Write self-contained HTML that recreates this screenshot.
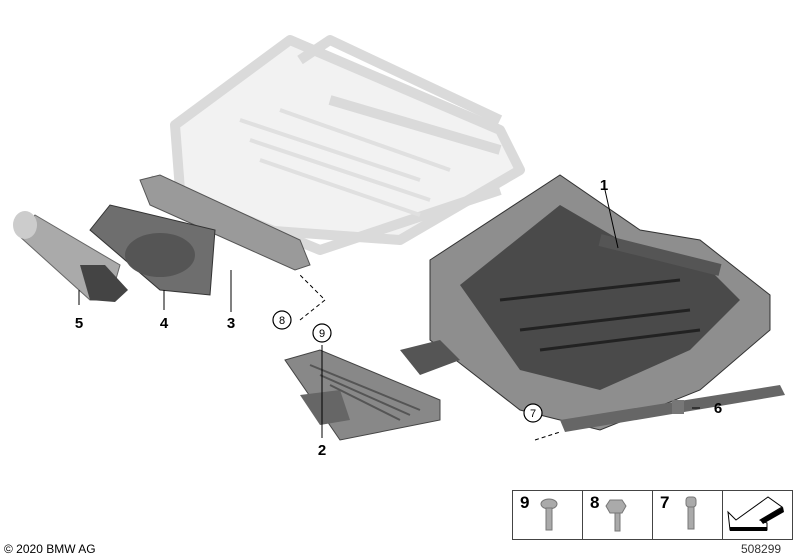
<!DOCTYPE html>
<html><head><style>
html,body{margin:0;padding:0;background:#fff;}
svg{display:block;font-family:"Liberation Sans",sans-serif;}
</style></head><body>
<svg width="800" height="560" viewBox="0 0 800 560" xmlns="http://www.w3.org/2000/svg">
<!-- ghost rear frame -->
<path d="M175 125 L290 40 L500 130 L520 170 L400 240 L260 230 L180 190 Z" fill="#f2f2f2"/>
<g fill="none" stroke="#dadada" stroke-width="10" stroke-linejoin="round">
<path d="M175 125 L290 40 L500 130 L520 170 L400 240 L260 230 L180 190 Z"/>
<path d="M300 60 L330 40 L500 120"/>
<path d="M150 180 L320 250 L500 190"/>
<path d="M330 100 L500 150"/>
</g>
<g stroke="#e0e0e0" stroke-width="4" fill="none">
<path d="M240 120 L420 180 M250 140 L430 200 M260 160 L420 215 M280 110 L450 170"/>
</g>
<!-- part 3 bracket -->
<path d="M140 180 L160 175 L300 240 L310 265 L295 270 L150 205 Z" fill="#9a9a9a" stroke="#555" stroke-width="1"/>
<!-- part 4 cover -->
<path d="M90 230 L110 205 L215 230 L210 295 L160 290 Z" fill="#6e6e6e" stroke="#333"/>
<ellipse cx="160" cy="255" rx="35" ry="22" fill="#555"/>
<!-- part 5 cylinder -->
<path d="M18 235 L35 215 L120 265 L110 300 L90 300 Z" fill="#aaa" stroke="#666"/>
<ellipse cx="25" cy="225" rx="12" ry="14" fill="#ccc"/>
<path d="M80 265 L105 265 L128 290 L115 302 L90 300 Z" fill="#444"/>
<!-- part 2 -->
<path d="M285 360 L320 350 L440 400 L440 420 L340 440 Z" fill="#888" stroke="#444"/>
<path d="M300 395 L340 390 L350 420 L320 425 Z" fill="#666"/>
<g stroke="#555" stroke-width="2"><path d="M310 365 L420 410 M320 375 L410 415 M330 385 L400 420"/></g>
<!-- part 1 main frame -->
<path d="M430 260 L560 175 L640 230 L700 240 L770 295 L770 330 L700 390 L600 430 L520 410 L430 340 Z" fill="#8e8e8e" stroke="#333"/>
<path d="M460 285 L560 205 L620 240 L700 260 L740 300 L690 350 L600 390 L520 370 Z" fill="#4a4a4a"/>
<g stroke="#222" stroke-width="3" fill="none"><path d="M500 300 L680 280 M520 330 L690 310 M540 350 L700 330"/></g>
<path d="M400 350 L440 340 L460 360 L420 375 Z" fill="#555"/>
<path d="M560 420 L780 385 L785 395 L565 432 Z" fill="#666"/>
<path d="M600 240 L720 270" stroke="#555" stroke-width="12"/>
<!-- part 6 -->
<rect x="672" y="400" width="12" height="14" fill="#777"/>
<!-- dashed leaders -->
<g stroke="#000" stroke-width="1" stroke-dasharray="4,3" fill="none">
<path d="M300 320 L325 300 L300 275"/>
<path d="M535 440 L560 432"/>
</g>
<g stroke="#000" stroke-width="1" fill="none">
<path d="M605 190 L618 248"/>
<path d="M79 290 L79 305 M164 290 L164 310 M231 270 L231 312 M322 345 L322 438 M692 408 L700 408"/>
</g>
<g font-weight="bold" font-size="15" fill="#000" text-anchor="middle">
<text x="604" y="190">1</text>
<text x="322" y="455">2</text>
<text x="231" y="328">3</text>
<text x="164" y="328">4</text>
<text x="79" y="328">5</text>
<text x="718" y="413">6</text>
</g>
<g fill="#fff" stroke="#000" stroke-width="1.2">
<circle cx="282" cy="320" r="9"/><circle cx="322" cy="333" r="9"/><circle cx="533" cy="413" r="9"/>
</g>
<g font-size="11" fill="#000" text-anchor="middle">
<text x="282" y="324">8</text><text x="322" y="337">9</text><text x="533" y="417">7</text>
</g>
<!-- legend -->
<rect x="512.5" y="490.5" width="280" height="49" fill="#fff" stroke="#444"/>
<g stroke="#444"><path d="M582.5 490 V540 M652.5 490 V540 M722.5 490 V540"/></g>
<g font-weight="bold" font-size="17" fill="#000">
<text x="520" y="508">9</text><text x="590" y="508">8</text><text x="660" y="508">7</text>
</g>
<g fill="#aaa" stroke="#777">
<ellipse cx="549" cy="504" rx="8" ry="5"/><rect x="546" y="508" width="6" height="22"/>
<path d="M610 500 L622 500 L626 506 L622 513 L610 513 L606 506 Z"/><rect x="615" y="513" width="5" height="18"/>
<rect x="686" y="497" width="10" height="10" rx="3"/><rect x="688" y="507" width="6" height="22"/>
</g>
<path d="M728 512 L736 520 L768 497 L782 507 L760 520 L767 523 L767 530 L730 530 Z" fill="#fff" stroke="#000"/>
<path d="M730 527 L767 527 L767 531 L730 531 Z M760 520 L783 507 L784 512 L763 524 Z" fill="#000"/>
<text x="4" y="553" font-size="12" fill="#000">© 2020 BMW AG</text>
<text x="741" y="553" font-size="12" fill="#333">508299</text>
</svg>
</body></html>
